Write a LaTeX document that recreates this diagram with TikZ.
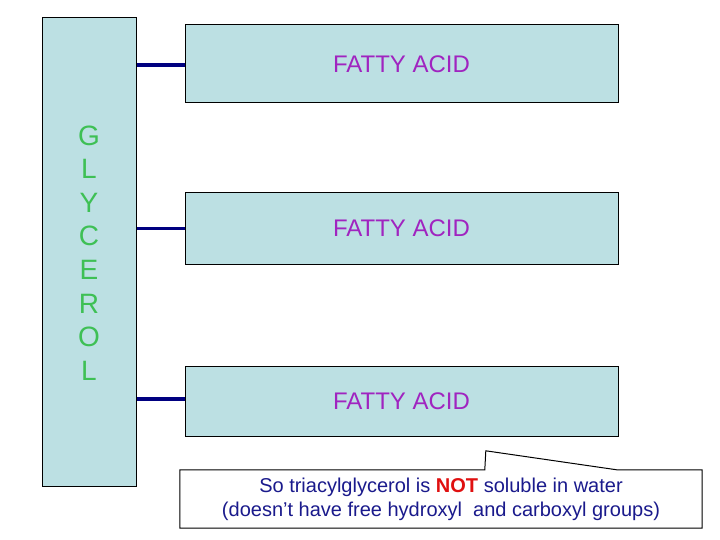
\documentclass[tikz,border=0pt]{standalone}
\usepackage{fontspec}
\setmainfont{Liberation Sans}
\usepackage{tikz}
\usetikzlibrary{positioning,calc}
\definecolor{GlyFill}{HTML}{BCE0E3}
\definecolor{GlyGreen}{HTML}{3EC055}
\definecolor{AcidPurple}{HTML}{A024C0}
\definecolor{LinkNavy}{HTML}{000080}
\definecolor{NoteNavy}{HTML}{1A1A8C}
\definecolor{NoteRed}{HTML}{E01010}

\begin{document}
\begin{tikzpicture}[
  x=1pt,y=-1pt,
  glybox/.style={draw=black,line width=1pt,fill=GlyFill,inner sep=0pt},
  acid/.style={glybox,minimum width=433pt,text=AcidPurple,font=\fontsize{24}{28}\selectfont},
  link/.style={line width=3.5pt,LinkNavy},
  note/.style={font=\fontsize{20}{24}\selectfont,text=NoteNavy,align=center},
]
\useasboundingbox (0,0) rectangle (720,540);
\node[glybox,minimum width=94pt,minimum height=468pt] (glycerol) at (89,252) {};
\node[text=GlyGreen,align=center,font=\fontsize{28}{33.6}\selectfont] (glyname) at (89,253) {G\\L\\Y\\C\\E\\R\\O\\L};
\node[acid,minimum height=78pt] (acid1) at (401.5,64) {FATTY ACID};
\node[acid,minimum height=71pt] (acid2) at (401.5,228.5) {FATTY ACID};
\node[acid,minimum height=70pt] (acid3) at (401.5,401) {FATTY ACID};
\draw[link] (glycerol.east |- 0,65) -- (acid1.west |- 0,65);
\draw[link] (glycerol.east |- acid2.west) -- (acid2.west);
\draw[link] (glycerol.east |- 0,399) -- (acid3.west |- 0,399);
% callout with pointer
\node[minimum width=522pt,minimum height=58pt,inner sep=0pt] (callout) at (441,499) {};
\draw[line width=1pt,fill=white] (callout.north west) -- ($(callout.north west)+(305,0)$) -- ($(callout.north west)+(306,-19)$) -- ($(callout.north west)+(437,0)$) -- (callout.north east) -- (callout.south east) -- (callout.south west) -- cycle;
\node[note] (notetext) at (callout.center) {So triacylglycerol is \textbf{\textcolor{NoteRed}{NOT}} soluble in water\\(doesn’t have free hydroxyl\ \ and carboxyl groups)};
\end{tikzpicture}
\end{document}
